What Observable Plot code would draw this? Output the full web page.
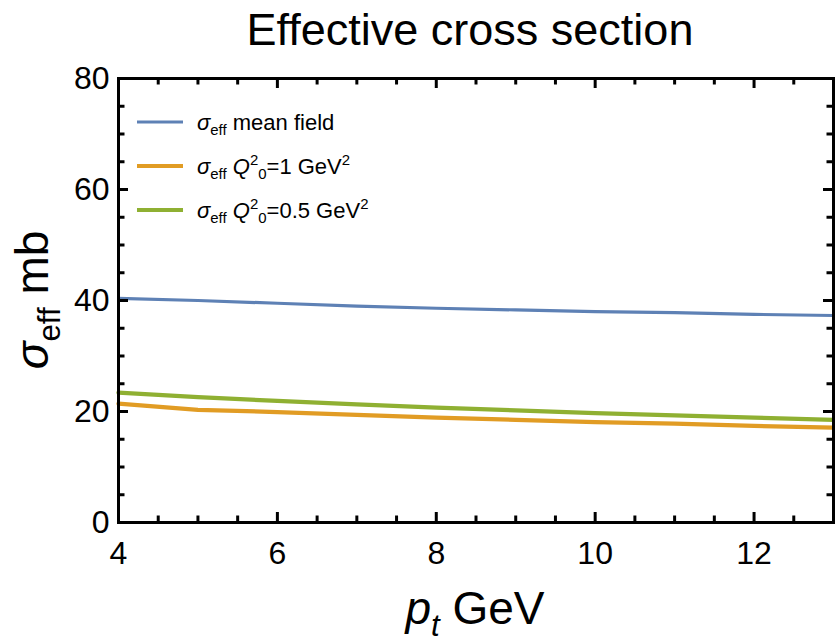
<!DOCTYPE html>
<html>
<head>
<meta charset="utf-8">
<script src="https://cdn.jsdelivr.net/npm/d3@7"></script>
<script src="https://cdn.jsdelivr.net/npm/@observablehq/plot@0.6"></script>
<style>
  html, body { margin: 0; padding: 0; background: #fff; }
  #chart svg { display: block; }
</style>
</head>
<body>
<div id="chart"></div>
<script>
// ---- data ----
const pt = [4, 5, 6, 7, 8, 9, 10, 11, 12, 13];
const sigmaMeanField = [40.4, 40.0, 39.5, 39.0, 38.6, 38.3, 38.0, 37.8, 37.5, 37.3];
const sigmaQ1 = [21.4, 20.3, 19.9, 19.4, 18.9, 18.5, 18.1, 17.8, 17.4, 17.1];
const sigmaQ05 = [23.4, 22.6, 21.9, 21.3, 20.7, 20.2, 19.7, 19.3, 18.9, 18.5];
const seriesNames = ["mean field", "Q1", "Q05"];
const xMajor = [4, 6, 8, 10, 12];
const xMinor = [4.5, 5, 5.5, 6.5, 7, 7.5, 8.5, 9, 9.5, 10.5, 11, 11.5, 12.5];
const yMajor = [0, 20, 40, 60, 80];
const yMinor = [5, 10, 15, 25, 30, 35, 45, 50, 55, 65, 70, 75];

const colors = {"mean field": "#5E81B5", "Q1": "#E19C24", "Q05": "#8FB032"};
const widths = {"mean field": 3.2, "Q1": 4.3, "Q05": 4.3};

const rows = [];
[sigmaMeanField, sigmaQ1, sigmaQ05].forEach((vals, i) => {
  vals.forEach((v, j) => rows.push({series: seriesNames[i], pt: pt[j], sigma: v}));
});

// ---- layout ----
const W = 835, H = 644;
const mL = 118, mR = 2, mT = 78, mB = 122;
const plotW = W - mL - mR, plotH = H - mT - mB;
const xDom = [4, 13], yDom = [0, 80];
const font = "'Liberation Sans', Arial, Helvetica, sans-serif";
const majLen = 10, minLen = 6.5, tickW = 3;

const marks = [];
for (const s of seriesNames) {
  marks.push(Plot.line(rows.filter(d => d.series === s), {
    x: "pt", y: "sigma", stroke: colors[s], strokeWidth: widths[s], strokeLinejoin: "round"
  }));
}
marks.push(Plot.frame({stroke: "black", strokeWidth: 3}));
// inward ticks, drawn after the frame
const tk = (arr, len, side) => {
  const o = {stroke: "black", strokeWidth: tickW};
  if (side === "b") return Plot.ruleX(arr, {x: d => d, insetTop: plotH - len, ...o});
  if (side === "t") return Plot.ruleX(arr, {x: d => d, insetBottom: plotH - len, ...o});
  if (side === "l") return Plot.ruleY(arr, {y: d => d, insetRight: plotW - len, ...o});
  return Plot.ruleY(arr, {y: d => d, insetLeft: plotW - len, ...o});
};
for (const side of ["b", "t"]) marks.push(tk(xMajor, majLen, side), tk(xMinor, minLen, side));
for (const side of ["l", "r"]) marks.push(tk(yMajor, majLen, side), tk(yMinor, minLen, side));
marks.push(Plot.axisX({ticks: xMajor, tickSize: 0, tickPadding: 19, fontSize: 32, label: null, tickFormat: d => String(d)}));
marks.push(Plot.axisY({ticks: yMajor, tickSize: 0, tickPadding: 9, fontSize: 32, label: null, tickFormat: d => String(d)}));

const svgNode = Plot.plot({
  width: W, height: H,
  marginLeft: mL, marginRight: mR, marginTop: mT, marginBottom: mB,
  x: {domain: xDom},
  y: {domain: yDom},
  style: {fontFamily: font, color: "black", background: "white"},
  marks
});
document.getElementById("chart").appendChild(svgNode);
const svg = d3.select(svgNode);

// ---- rich text helpers ----
function rich(sel, parts, base) {
  let cur = 0;
  parts.forEach(p => {
    const sz = base * (p.scale || 1);
    const target = (p.shift || 0) * base;
    const ts = sel.append("tspan").text(p.t).attr("font-size", sz).attr("dy", target - cur);
    if (p.italic) ts.attr("font-style", "italic");
    cur = target;
  });
}
const SUB = 0.25, SUP = -0.4, SC = 0.68;

// title
svg.append("text").attr("x", 470).attr("y", 45).attr("text-anchor", "middle")
  .attr("font-family", font).attr("font-size", 45).attr("fill", "black")
  .text("Effective cross section");

// x label
rich(svg.append("text").attr("x", 475).attr("y", 624).attr("text-anchor", "middle")
  .attr("font-family", font).attr("fill", "black"),
  [{t: "p", italic: true}, {t: "t", italic: true, scale: SC, shift: SUB}, {t: " GeV"}], 46);

// y label
rich(svg.append("text").attr("transform", "translate(48,300) rotate(-90)").attr("text-anchor", "middle")
  .attr("font-family", font).attr("fill", "black"),
  [{t: "σ", italic: true}, {t: "eff", scale: SC, shift: SUB}, {t: " mb"}], 46);

// legend
const legendItems = [
  {s: "mean field", y: 122, parts: [{t: "σ", italic: true}, {t: "eff", scale: SC, shift: SUB}, {t: " mean field"}]},
  {s: "Q1", y: 166, parts: [{t: "σ", italic: true}, {t: "eff", scale: SC, shift: SUB}, {t: " "}, {t: "Q", italic: true},
     {t: "2", scale: SC, shift: SUP}, {t: "0", scale: SC, shift: SUB}, {t: "=1 GeV"}, {t: "2", scale: SC, shift: SUP}]},
  {s: "Q05", y: 210, parts: [{t: "σ", italic: true}, {t: "eff", scale: SC, shift: SUB}, {t: " "}, {t: "Q", italic: true},
     {t: "2", scale: SC, shift: SUP}, {t: "0", scale: SC, shift: SUB}, {t: "=0.5 GeV"}, {t: "2", scale: SC, shift: SUP}]}
];
legendItems.forEach(it => {
  svg.append("line").attr("x1", 137).attr("x2", 183).attr("y1", it.y).attr("y2", it.y)
    .attr("stroke", colors[it.s]).attr("stroke-width", it.s === "mean field" ? 3 : 4);
  rich(svg.append("text").attr("x", 197).attr("y", it.y + 7.5).attr("text-anchor", "start")
    .attr("font-family", font).attr("fill", "black"), it.parts, 22);
});
</script>
</body>
</html>
